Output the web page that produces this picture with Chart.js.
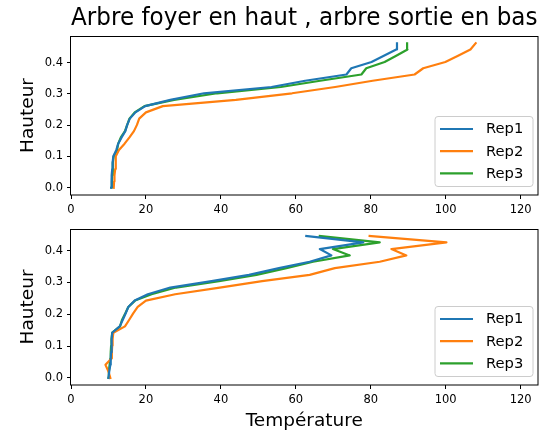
<!DOCTYPE html>
<html><head><meta charset="utf-8">
<script src="https://cdn.jsdelivr.net/npm/chart.js@4"></script>
<style>
html,body{margin:0;padding:0;background:#fff;}
#wrap{position:relative;width:547px;height:437px;overflow:hidden;background:#fff;}
canvas{position:absolute;left:0;}
</style></head><body>
<div id="wrap">
<canvas id="c1" width="547" height="218" style="top:0px"></canvas>
<canvas id="c2" width="547" height="219" style="top:218px"></canvas>
</div>
<script>
const seriesNames = ['Rep1', 'Rep2', 'Rep3'];
const seriesColors = ['#1f77b4', '#ff7f0e', '#2ca02c'];
const xTicks = [0, 20, 40, 60, 80, 100, 120];
const yTicks = [0, 0.1, 0.2, 0.3, 0.4];

// Top panel: Arbre foyer en haut
const topHeights = [0, 0.020, 0.040, 0.060, 0.080, 0.101, 0.121, 0.141, 0.161, 0.181, 0.201, 0.221, 0.241, 0.261, 0.281, 0.302, 0.322, 0.342, 0.362, 0.382, 0.402, 0.422, 0.442, 0.462];
const topRep1 = [10.7, 10.8, 10.9, 11.0, 11.1, 11.3, 12.1, 12.6, 13.5, 14.5, 15.0, 15.7, 17.2, 19.8, 26.5, 35.5, 53.5, 62.5, 73.5, 74.8, 80.2, 83.5, 86.8, 87.0];
const topRep2 = [11.4, 11.5, 11.6, 11.8, 12.0, 11.9, 12.8, 14.3, 15.6, 16.8, 17.6, 18.2, 20.0, 24.5, 44.0, 59.0, 70.5, 80.5, 91.7, 94.0, 99.9, 103.3, 106.6, 108.0];
const topRep3 = [10.8, 10.9, 11.0, 11.1, 11.2, 11.4, 12.3, 12.6, 13.3, 14.4, 15.0, 15.6, 17.0, 19.6, 27.5, 39.0, 56.0, 66.5, 77.5, 78.8, 83.7, 86.8, 89.8, 89.7];

// Bottom panel: arbre sortie en bas
const bottomHeights = [0, 0.020, 0.041, 0.061, 0.081, 0.101, 0.122, 0.142, 0.162, 0.182, 0.203, 0.223, 0.243, 0.263, 0.284, 0.304, 0.324, 0.345, 0.365, 0.385, 0.405, 0.426, 0.446];
const bottomRep1 = [10.0, 10.2, 10.5, 10.6, 10.7, 10.8, 10.9, 11.0, 13.0, 13.8, 14.6, 15.3, 17.0, 20.5, 26.5, 37.5, 47.5, 55.5, 63.7, 69.5, 66.4, 78.0, 62.8];
const bottomRep2 = [10.5, 10.0, 9.2, 10.8, 10.9, 11.0, 11.1, 11.3, 14.4, 15.5, 16.6, 17.8, 20.0, 27.8, 39.7, 51.0, 63.7, 70.4, 82.4, 89.5, 85.5, 100.2, 79.7];
const bottomRep3 = [10.0, 10.1, 10.3, 10.5, 10.6, 10.7, 10.8, 11.0, 13.1, 13.6, 14.5, 15.3, 17.1, 21.5, 28.0, 39.5, 49.5, 57.5, 64.6, 74.4, 69.9, 82.4, 66.4];

const FONT = 'DejaVu Sans';
Chart.defaults.font.family = FONT;
Chart.defaults.color = '#000';

const framePlugin = {
  id: 'mplFrame',
  afterDatasetsDraw(chart) {
    const ctx = chart.ctx, a = chart.chartArea;
    ctx.save();
    ctx.strokeStyle = '#000';
    ctx.lineWidth = 1;
    ctx.strokeRect(Math.round(a.left) - 0.5, Math.round(a.top) + 0.5, Math.round(a.right) - Math.round(a.left) + 0.5, Math.round(a.bottom) - Math.round(a.top) - 0.5);
    ctx.restore();
  }
};

const legendPlugin = {
  id: 'mplLegend',
  afterDraw(chart) {
    const ctx = chart.ctx, a = chart.chartArea;
    const w = 98, h = 70, r = 3;
    const x = a.right - 4.5 - w, y = a.bottom - 8.5 - h;
    ctx.save();
    ctx.beginPath();
    ctx.moveTo(x + r, y);
    ctx.lineTo(x + w - r, y); ctx.arcTo(x + w, y, x + w, y + r, r);
    ctx.lineTo(x + w, y + h - r); ctx.arcTo(x + w, y + h, x + w - r, y + h, r);
    ctx.lineTo(x + r, y + h); ctx.arcTo(x, y + h, x, y + h - r, r);
    ctx.lineTo(x, y + r); ctx.arcTo(x, y, x + r, y, r);
    ctx.closePath();
    ctx.fillStyle = 'rgba(255,255,255,0.8)';
    ctx.fill();
    ctx.strokeStyle = '#cccccc';
    ctx.lineWidth = 1;
    ctx.stroke();
    chart.data.datasets.forEach((ds, i) => {
      const cy = y + 12.5 + i * 22.2;
      ctx.beginPath();
      ctx.moveTo(x + 5, cy); ctx.lineTo(x + 38, cy);
      ctx.strokeStyle = ds.borderColor;
      ctx.lineWidth = 2.2;
      ctx.lineCap = 'butt';
      ctx.stroke();
      ctx.fillStyle = '#000';
      ctx.font = '14.7px "' + FONT + '"';
      ctx.textBaseline = 'middle';
      ctx.textAlign = 'left';
      ctx.fillText(ds.label, x + 51, cy + 0.5);
    });
    ctx.restore();
  }
};

function makeDatasets(heights, reps) {
  return reps.map((vals, i) => ({
    label: seriesNames[i],
    data: vals.map((t, k) => ({ x: t, y: heights[k] })),
    borderColor: seriesColors[i],
    backgroundColor: seriesColors[i],
    borderWidth: 2.2,
    pointRadius: 0,
    showLine: true,
    tension: 0,
    fill: false,
    borderJoinStyle: 'round',
    borderCapStyle: 'square'
  }));
}

function makeChart(id, heights, reps, yMin, yMax, cfg) {
  return new Chart(document.getElementById(id), {
    type: 'scatter',
    data: { datasets: makeDatasets(heights, reps) },
    options: {
      responsive: false,
      animation: false,
      devicePixelRatio: 1,
      layout: { padding: { left: 0, right: 9.5, top: cfg.padTop, bottom: 0 } },
      plugins: {
        legend: { display: false },
        tooltip: { enabled: false },
        title: cfg.title ? {
          display: true, text: cfg.title, fullSize: false, color: '#000',
          font: { family: FONT, size: 25, weight: 'normal' },
          padding: { top: 3.5, bottom: 2.5 }
        } : { display: false }
      },
      scales: {
        x: {
          type: 'linear', min: 0, max: 124.5,
          afterBuildTicks: s => { s.ticks = xTicks.map(v => ({ value: v })); },
          afterFit: s => { s.height = cfg.xHeight; },
          ticks: { color: '#000', font: { family: FONT, size: 11.5 }, padding: 4.5, maxRotation: 0, autoSkip: false, callback: v => String(v) },
          grid: { drawOnChartArea: false, drawTicks: true, tickLength: 4, color: '#000', lineWidth: 1 },
          border: { display: false },
          title: cfg.xTitle ? {
            display: true, text: cfg.xTitle, color: '#000',
            font: { family: FONT, size: 18.5 }, padding: { top: 0, bottom: 4.5 }
          } : { display: false }
        },
        y: {
          type: 'linear', min: yMin, max: yMax,
          afterBuildTicks: s => { s.ticks = yTicks.map(v => ({ value: v })); },
          afterFit: s => { s.width = 71; },
          ticks: { color: '#000', font: { family: FONT, size: 11.5 }, padding: 4, autoSkip: false, callback: v => v.toFixed(1) },
          grid: { drawOnChartArea: false, drawTicks: true, tickLength: 4, color: '#000', lineWidth: 1 },
          border: { display: false },
          title: {
            display: true, text: 'Hauteur', color: '#000',
            font: { family: FONT, size: 18.5 }, padding: { top: 17, bottom: 0 }
          }
        }
      }
    },
    plugins: [framePlugin, legendPlugin]
  });
}

makeChart('c1', topHeights, [topRep1, topRep2, topRep3], -0.0231, 0.4851,
  { title: 'Arbre foyer en haut , arbre sortie en bas', padTop: 0, xHeight: 23 });
makeChart('c2', bottomHeights, [bottomRep1, bottomRep2, bottomRep3], -0.0223, 0.4683,
  { xTitle: 'Température', padTop: 8, xHeight: 52 });
</script>
</body></html>
